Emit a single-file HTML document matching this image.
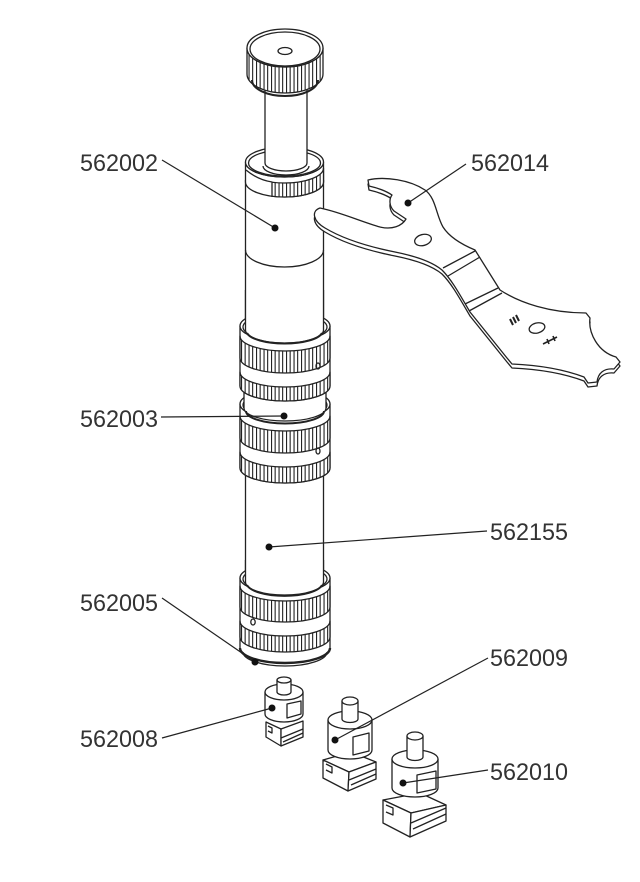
<!DOCTYPE html>
<html><head><meta charset="utf-8"><style>
html,body{margin:0;padding:0;background:#fff;}
svg{display:block;}
text{font-family:"Liberation Sans",sans-serif;font-size:24px;fill:#333;}
</style></head><body>
<svg width="640" height="882" viewBox="0 0 640 882" xmlns="http://www.w3.org/2000/svg">
<defs>
<pattern id="kn" width="7.5" height="40" patternUnits="userSpaceOnUse" x="1" y="0">
<rect width="7.5" height="40" fill="#fff"/>
<rect x="0" width="1.1" height="40" fill="#222"/>
<rect x="3.6" width="1.1" height="40" fill="#222"/>
</pattern>
<clipPath id="cc"><rect x="272" y="140" width="60" height="70"/></clipPath>
</defs>
<rect width="640" height="882" fill="#fff"/>
<g fill="#fff" stroke="#222" stroke-width="1.3" stroke-linejoin="round">
<!-- body lines -->
<path d="M245.5,180 L245.5,590 M323.5,180 L323.5,590" fill="none"/>
<path d="M245.5,250 A39 17 0 0 0 323.5,250" fill="none"/>

<!-- ring group 3 (bottom) -->
<path d="M240,578 A45 15 0 0 0 330,578 L330,648 A45 15 0 0 1 240,648 Z"/>
<path d="M240,648 A45 15 0 0 0 330,648" fill="none" stroke-width="2.4"/>
<path d="M243,652 A42 14 0 0 0 327,652" fill="none"/>
<ellipse cx="285" cy="578" rx="45" ry="15"/>
<ellipse cx="285" cy="579" rx="42" ry="13.5" fill="none"/>
<path d="M245.5,560 L245.5,582 A39 13 0 0 0 323.5,582 L323.5,560"/>
<path d="M247,585 A38 13 0 0 0 322,585" fill="none" stroke-width="2"/>
<path d="M240,586 A45 15 0 0 0 330,586 L330,607 A45 15 0 0 1 240,607 Z" fill="url(#kn)"/>
<path d="M240,621 A45 15 0 0 0 330,621 L330,637 A45 15 0 0 1 240,637 Z" fill="url(#kn)"/>
<ellipse cx="253" cy="622" rx="2.2" ry="3" fill="none"/>

<!-- ring group 2 -->
<path d="M240,404 A45 15 0 0 0 330,404 L330,468 A45 15 0 0 1 240,468 Z"/>
<ellipse cx="285" cy="404" rx="45" ry="15"/>
<ellipse cx="285" cy="405" rx="42" ry="13.5" fill="none"/>
<path d="M244,380 L244,408 A41 13 0 0 0 326,408 L326,380"/>
<path d="M246,411 A39 12.5 0 0 0 324,411" fill="none" stroke-width="2"/>
<path d="M240,416 A45 15 0 0 0 330,416 L330,438 A45 15 0 0 1 240,438 Z" fill="url(#kn)"/>
<path d="M240,452 A45 15 0 0 0 330,452 L330,468 A45 15 0 0 1 240,468 Z" fill="url(#kn)"/>
<ellipse cx="318" cy="451" rx="2" ry="3" fill="none"/>

<!-- ring group 1 -->
<path d="M240,326 A45 15 0 0 0 330,326 L330,386 A45 15 0 0 1 240,386 Z"/>
<ellipse cx="285" cy="326" rx="45" ry="15"/>
<ellipse cx="285" cy="327" rx="42" ry="13.5" fill="none"/>
<path d="M245.5,290 L245.5,330 A39 13 0 0 0 323.5,330 L323.5,290"/>
<path d="M247,333 A38 12.5 0 0 0 322,333" fill="none" stroke-width="2"/>
<path d="M240,336 A45 15 0 0 0 330,336 L330,358 A45 15 0 0 1 240,358 Z" fill="url(#kn)"/>
<path d="M240,372 A45 15 0 0 0 330,372 L330,386 A45 15 0 0 1 240,386 Z" fill="url(#kn)"/>
<ellipse cx="318" cy="366" rx="2" ry="3" fill="none"/>

<!-- collar -->
<path d="M245.5,162 A39 15 0 0 0 323.5,162 L323.5,182 A39 15 0 0 1 245.5,182 Z"/>
<path clip-path="url(#cc)" d="M245.5,168 A39 15 0 0 0 323.5,168 L323.5,182 A39 15 0 0 1 245.5,182 Z" fill="url(#kn)"/>
<path d="M246,170 Q258,180 272,182 L272,197" fill="none"/>
<ellipse cx="284.5" cy="162" rx="39" ry="15"/>
<ellipse cx="284.5" cy="163" rx="36" ry="13" fill="none"/>
<path d="M265,85 L265,163 A21 8 0 0 0 307,163 L307,85"/>
<path d="M263,166 A23 9 0 0 0 309,166" fill="none"/>

<!-- knob -->
<path d="M247,48 A38 19 0 0 0 323,48 L323,74 A38 19 0 0 1 247,74 Z" fill="url(#kn)"/>
<path d="M252,80 A33 16 0 0 0 318,80" fill="none" stroke-width="2"/>
<ellipse cx="285" cy="48" rx="38" ry="19"/>
<ellipse cx="285" cy="49" rx="35" ry="17" fill="none"/>
<ellipse cx="285" cy="51" rx="7" ry="3.5" fill="none"/>

<!-- wrench -->
<path transform="translate(0,4)" d="M368,180 C385,176 410,180 425,190 C436,198 436,215 443,227 C450,238 463,245 475,250 L500,290 C520,303 550,313 586,313 L590,318 C588,333 598,352 616,357 L620,362 L614,369 C604,368 598,373 597,382 L588,383 L584,377 C560,368 535,365 512,364 L507,358 L470,312 C460,295 452,280 442,270 C430,260 410,255 395,252 C370,247 345,240 325,228 C313,221 311,211 320,208 C340,212 362,222 380,227 C392,230 402,226 406,219 L394,211 C389,206 389,199 392,195 C386,191 378,188 369,186 Z"/>
<path d="M368,180 C385,176 410,180 425,190 C436,198 436,215 443,227 C450,238 463,245 475,250 L500,290 C520,303 550,313 586,313 L590,318 C588,333 598,352 616,357 L620,362 L614,369 C604,368 598,373 597,382 L588,383 L584,377 C560,368 535,365 512,364 L507,358 L470,312 C460,295 452,280 442,270 C430,260 410,255 395,252 C370,247 345,240 325,228 C313,221 311,211 320,208 C340,212 362,222 380,227 C392,230 402,226 406,219 L394,211 C389,206 389,199 392,195 C386,191 378,188 369,186 Z"/>
<path d="M443,268 L475,251 M448,276 L480,257 M465,304 L498,288 M469,311 L502,293" fill="none"/>
<ellipse cx="423" cy="240" rx="8.5" ry="5.5" transform="rotate(-15 423 240)"/>
<ellipse cx="537" cy="328" rx="8" ry="5" transform="rotate(-15 537 328)"/>
<path d="M510,319 L513,325 M513,317 L516,323 M516,315 L519,321" fill="none" stroke-width="2"/>
<path d="M543,344 L557,337 M547,339 L549,344 M553,336 L555,341" fill="none" stroke-width="1.6"/>

<!-- part 562008 -->
<polygon points="266,722 266,737 281,746 281,729"/>
<polygon points="281,729 281,746 303,737 303,721"/>
<path d="M268,726 L272,728 L272,733 L268,731 M281,738 L303,729 M283,742 L303,733" fill="none"/>
<path d="M265,692 L265,714 A19 8 0 0 0 303,714 L303,692 Z"/>
<ellipse cx="284" cy="692" rx="19" ry="8"/>
<path d="M277,680 L277,692 A7 3 0 0 0 291,692 L291,680"/>
<ellipse cx="284" cy="680" rx="7" ry="3"/>
<polygon points="287,704 301,701 301,714 287,718" fill="none"/>

<!-- part 562009 -->
<polygon points="323,760 349,772 376,762 351,752"/>
<polygon points="323,760 323,778 348,791 349,772"/>
<polygon points="349,772 348,791 376,779 376,762"/>
<path d="M326,764 L332,767 L332,773 L326,770 M349,780 L376,769 M351,785 L376,774" fill="none"/>
<path d="M328,720 L328,750 A22 9 0 0 0 372,750 L372,720 Z"/>
<ellipse cx="350" cy="720" rx="22" ry="9"/>
<path d="M342,701 L342,719 A8 3.5 0 0 0 358,719 L358,701"/>
<ellipse cx="350" cy="701" rx="8" ry="4"/>
<polygon points="353,737 369,733 369,751 353,755" fill="none"/>

<!-- part 562010 -->
<polygon points="383,800 411,813 446,805 420,793"/>
<polygon points="383,800 383,823 410,837 411,813"/>
<polygon points="411,813 410,837 446,821 446,805"/>
<path d="M386,805 L393,808 L393,815 L386,812 M411,823 L446,808 M413,829 L446,814" fill="none"/>
<path d="M392,759 L392,788 A23 9 0 0 0 438,788 L438,759 Z"/>
<ellipse cx="415" cy="759" rx="23" ry="9"/>
<path d="M407,736 L407,757 A8 3.5 0 0 0 423,757 L423,736"/>
<ellipse cx="415" cy="736" rx="8" ry="4"/>
<polygon points="417,775 436,771 436,789 417,793" fill="none"/>
</g>

<!-- leaders -->
<g stroke="#222" stroke-width="1.2" fill="none">
<path d="M162,160 L275,228"/>
<path d="M466,164 L408,203"/>
<path d="M161,417 L284,416"/>
<path d="M487,531 L269,547"/>
<path d="M162,598 L255,662"/>
<path d="M488,658 L335,740"/>
<path d="M162,738 L272,708"/>
<path d="M488,770 L403,783"/>
</g>
<g fill="#111">
<circle cx="275" cy="228" r="3.5"/>
<circle cx="408" cy="203" r="3.5"/>
<circle cx="284" cy="416" r="3.5"/>
<circle cx="269" cy="547" r="3.5"/>
<circle cx="255" cy="662" r="3.5"/>
<circle cx="335" cy="740" r="3.5"/>
<circle cx="272" cy="708" r="3.5"/>
<circle cx="403" cy="783" r="3.5"/>
</g>

<text x="80" y="171" textLength="78" lengthAdjust="spacingAndGlyphs">562002</text>
<text x="471" y="171" textLength="78" lengthAdjust="spacingAndGlyphs">562014</text>
<text x="80" y="427" textLength="78" lengthAdjust="spacingAndGlyphs">562003</text>
<text x="490" y="540" textLength="78" lengthAdjust="spacingAndGlyphs">562155</text>
<text x="80" y="611" textLength="78" lengthAdjust="spacingAndGlyphs">562005</text>
<text x="490" y="666" textLength="78" lengthAdjust="spacingAndGlyphs">562009</text>
<text x="80" y="747" textLength="78" lengthAdjust="spacingAndGlyphs">562008</text>
<text x="490" y="780" textLength="78" lengthAdjust="spacingAndGlyphs">562010</text>
</svg>
</body></html>
